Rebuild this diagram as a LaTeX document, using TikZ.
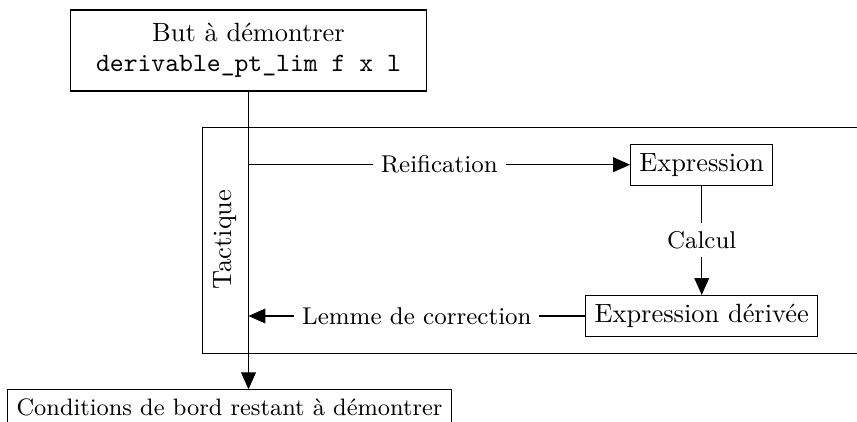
\documentclass[tikz,border=0pt]{standalone}
\usetikzlibrary{arrows.meta}
\begin{document}
\begin{tikzpicture}[
  x=0.3788pt, y=-0.3788pt,
  box/.style={draw, inner sep=3.33pt, font=\fontsize{10}{12}\selectfont},
  lab/.style={fill=white, inner sep=3pt, font=\fontsize{9.2}{11}\selectfont},
  flow/.style={-{Triangle[length=6.4pt,width=5.6pt]}},
]
\useasboundingbox (0,0) rectangle (857,421);
\clip (0,0) rectangle (857,421);

% frame of the tactic (open to the right)
\draw (202.7,127.3) rectangle (900,353.3);
\node[rotate=90, font=\fontsize{10}{12}\selectfont] (tac) at (225.5,239.5) {Tactique};

% goal and intermediate expressions
\node[box, align=center, minimum width=135.2pt, minimum height=30.7pt,
      font=\fontsize{10}{11.4}\selectfont] (goal) at (248.5,50.5)
  {But à démontrer\\\texttt{derivable\_pt\_lim f x l}};
\node[box] (expr) at (701.7,164.7) {Expression};
\node[box] (deriv) at (701.7,316) {Expression dérivée};
\node[box, anchor=north west, font=\fontsize{9}{11}\selectfont] (cond) at (7.3,389.3)
  {Conditions de bord restant à démontrer};

% main flow
\draw[flow] (goal.south) -- (goal.south |- cond.north);
\draw[flow] (goal.south |- expr.west) -- node[lab] {Reification} (expr.west);
\draw[flow] (expr.south) -- node[lab] {Calcul} (deriv.north);
\draw[flow] (deriv.west) -- node[lab] {Lemme de correction} (goal.south |- deriv.west);
\end{tikzpicture}
\end{document}
